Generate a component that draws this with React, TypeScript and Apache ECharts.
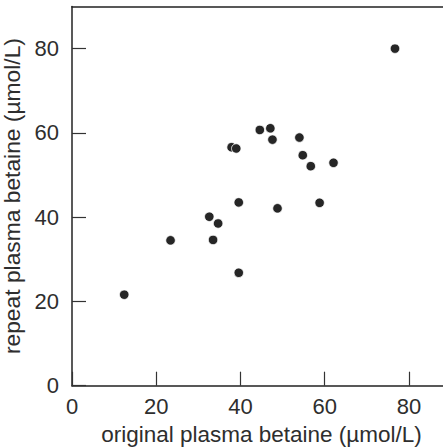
import React, { useEffect, useRef } from "react";
import * as echarts from "echarts";

const originalValues = [12.4, 23.4, 32.6, 34.7, 33.5, 39.6, 39.6, 37.9, 39.0, 44.6, 47.1, 47.6, 48.8, 54.0, 54.8, 56.7, 62.1, 58.8, 76.7];
const repeatValues = [21.6, 34.5, 40.1, 38.5, 34.6, 26.8, 43.5, 56.6, 56.3, 60.7, 61.1, 58.4, 42.1, 58.9, 54.7, 52.1, 52.9, 43.4, 80.0];
const tickValues = [0, 20, 40, 60, 80];
const xTitle = "original plasma betaine (\u00b5mol/L)";
const yTitle = "repeat plasma betaine (\u00b5mol/L)";

export default function App() {
  const ref = useRef<HTMLDivElement>(null);
  useEffect(() => {
    const chart = echarts.init(ref.current!, null, { renderer: "svg" });
    const data = originalValues.map((x, i) => [x, repeatValues[i]]);
    const textColor = "#2e2e2e";
    const font = "Liberation Sans";
    chart.setOption({
      animation: false,
      grid: { left: 72, right: 0, top: 6.5, bottom: 62.3, containLabel: false, outerBoundsMode: "none" },
      xAxis: [
        {
          type: "value",
          min: 0,
          max: 90,
          interval: 20,
          name: xTitle,
          nameLocation: "middle",
          nameGap: 36,
          nameTextStyle: { color: textColor, fontSize: 22.5, fontFamily: font },
          axisLine: { show: true, onZero: false, lineStyle: { color: "#222", width: 1.5 } },
          axisTick: { show: true, inside: true, length: 14, customValues: tickValues, lineStyle: { color: "#333", width: 1.2 } },
          axisLabel: { color: textColor, fontSize: 22, fontFamily: font, margin: 10, customValues: tickValues },
          splitLine: { show: false },
        },
        {
          type: "value",
          position: "top",
          min: 0,
          max: 90,
          axisLine: { show: true, onZero: false, lineStyle: { color: "#222", width: 1.5 } },
          axisTick: { show: false },
          axisLabel: { show: false },
          splitLine: { show: false },
        },
      ],
      yAxis: {
        type: "value",
        min: 0,
        max: 90,
        interval: 20,
        name: yTitle,
        nameLocation: "middle",
        nameGap: 41,
        nameTextStyle: { color: textColor, fontSize: 22.8, fontFamily: font },
        axisLine: { show: true, onZero: false, lineStyle: { color: "#222", width: 1.5 } },
        axisTick: { show: true, inside: true, length: 14, customValues: tickValues, lineStyle: { color: "#333", width: 1.2 } },
        axisLabel: { color: textColor, fontSize: 22, fontFamily: font, margin: 13, customValues: tickValues },
        splitLine: { show: false },
      },
      series: [
        {
          type: "scatter",
          xAxisIndex: 0,
          data,
          symbol: "circle",
          symbolSize: 9.5,
          itemStyle: { color: "#262626", borderColor: "#ffffff", borderWidth: 0.8, opacity: 1 },
        },
      ],
    });
    return () => chart.dispose();
  }, []);
  return (
    <div style={{ position: "absolute", left: 0, top: 0, width: 443, height: 448, overflow: "hidden" }}>
      <div ref={ref} style={{ width: 451, height: 448 }} />
    </div>
  );
}
